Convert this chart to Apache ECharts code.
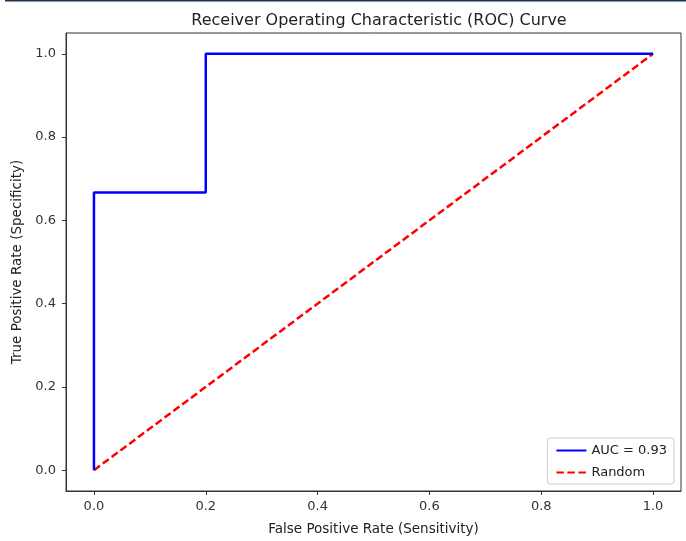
<!DOCTYPE html>
<html>
<head>
<meta charset="utf-8">
<title>ROC</title>
<script src="https://cdn.jsdelivr.net/npm/echarts@6/dist/echarts.min.js"></script>
<style>
  html,body{margin:0;padding:0;background:#fff;}
  #main{width:686px;height:541px;}
</style>
</head>
<body>
<div id="main"></div>
<script>
  // ROC points (false positive rate / true positive rate)
  var fpr = [0.0, 0.0, 0.2, 0.2, 1.0];
  var tpr = [0.0, 0.667, 0.667, 1.0, 1.0];
  var randomX = [0.0, 1.0];
  var randomY = [0.0, 1.0];
  var ticks = [0.0, 0.2, 0.4, 0.6, 0.8, 1.0];
  var aucLabel = 'AUC = 0.93';

  var chart = echarts.init(document.getElementById('main'));
  var font = 'DejaVu Sans';
  var ink = '#333';

  function axis(name, pos) {
    return {
      type: 'value',
      min: -0.05,
      max: 1.05,
      name: name,
      nameLocation: 'middle',
      nameGap: pos == 'x' ? 31 : 39,
      nameTextStyle: {fontFamily: font, fontSize: 13.5, color: '#222'},
      axisLine: {show: true, onZero: false, lineStyle: {color: ink, width: 1}},
      axisTick: {show: true, inside: false, length: 4, customValues: ticks, lineStyle: {color: ink}},
      axisLabel: {
        customValues: ticks,
        fontFamily: font, fontSize: 13, color: '#333', margin: pos == 'x' ? 9 : 10,
        formatter: function (v) { return v.toFixed(1); }
      },
      splitLine: {show: false}
    };
  }

  chart.setOption({
    backgroundColor: '#fff',
    animation: false,
    title: {
      text: 'Receiver Operating Characteristic (ROC) Curve',
      left: 374, top: 8, textAlign: 'center',
      textStyle: {fontFamily: font, fontSize: 16, fontWeight: 'normal', color: '#222'}
    },
    graphic: [
      {type: 'rect', shape: {x: 5, y: 0, width: 681, height: 1.5}, style: {fill: '#1d3346'}}
    ],
    grid: {
      left: 66, top: 33, right: 5, bottom: 50,
      show: true, borderColor: ink, borderWidth: 1, backgroundColor: 'transparent'
    },
    legend: {
      orient: 'vertical',
      right: 12, bottom: 57,
      itemWidth: 30, itemHeight: 10, itemGap: 9,
      padding: [6, 7, 5, 8],
      borderColor: '#ccc', borderWidth: 1, borderRadius: 3,
      backgroundColor: 'rgba(255,255,255,0.8)',
      itemStyle: {color: 'transparent', borderColor: 'transparent', borderWidth: 0},
      textStyle: {fontFamily: font, fontSize: 13, color: '#222'},
      data: [aucLabel, 'Random']
    },
    xAxis: axis('False Positive Rate (Sensitivity)', 'x'),
    yAxis: axis('True Positive Rate (Specificity)', 'y'),
    series: [
      {
        name: aucLabel,
        type: 'line',
        symbol: 'none',
        lineStyle: {color: '#0000ff', width: 2.5},
        itemStyle: {color: '#0000ff'},
        data: fpr.map(function (x, i) { return [x, tpr[i]]; }),
        z: 3
      },
      {
        name: 'Random',
        type: 'line',
        symbol: 'none',
        lineStyle: {color: '#ff0000', width: 2.5, type: [7.5, 3.5]},
        itemStyle: {color: '#ff0000'},
        data: randomX.map(function (x, i) { return [x, randomY[i]]; }),
        z: 2
      }
    ]
  });
</script>
</body>
</html>
